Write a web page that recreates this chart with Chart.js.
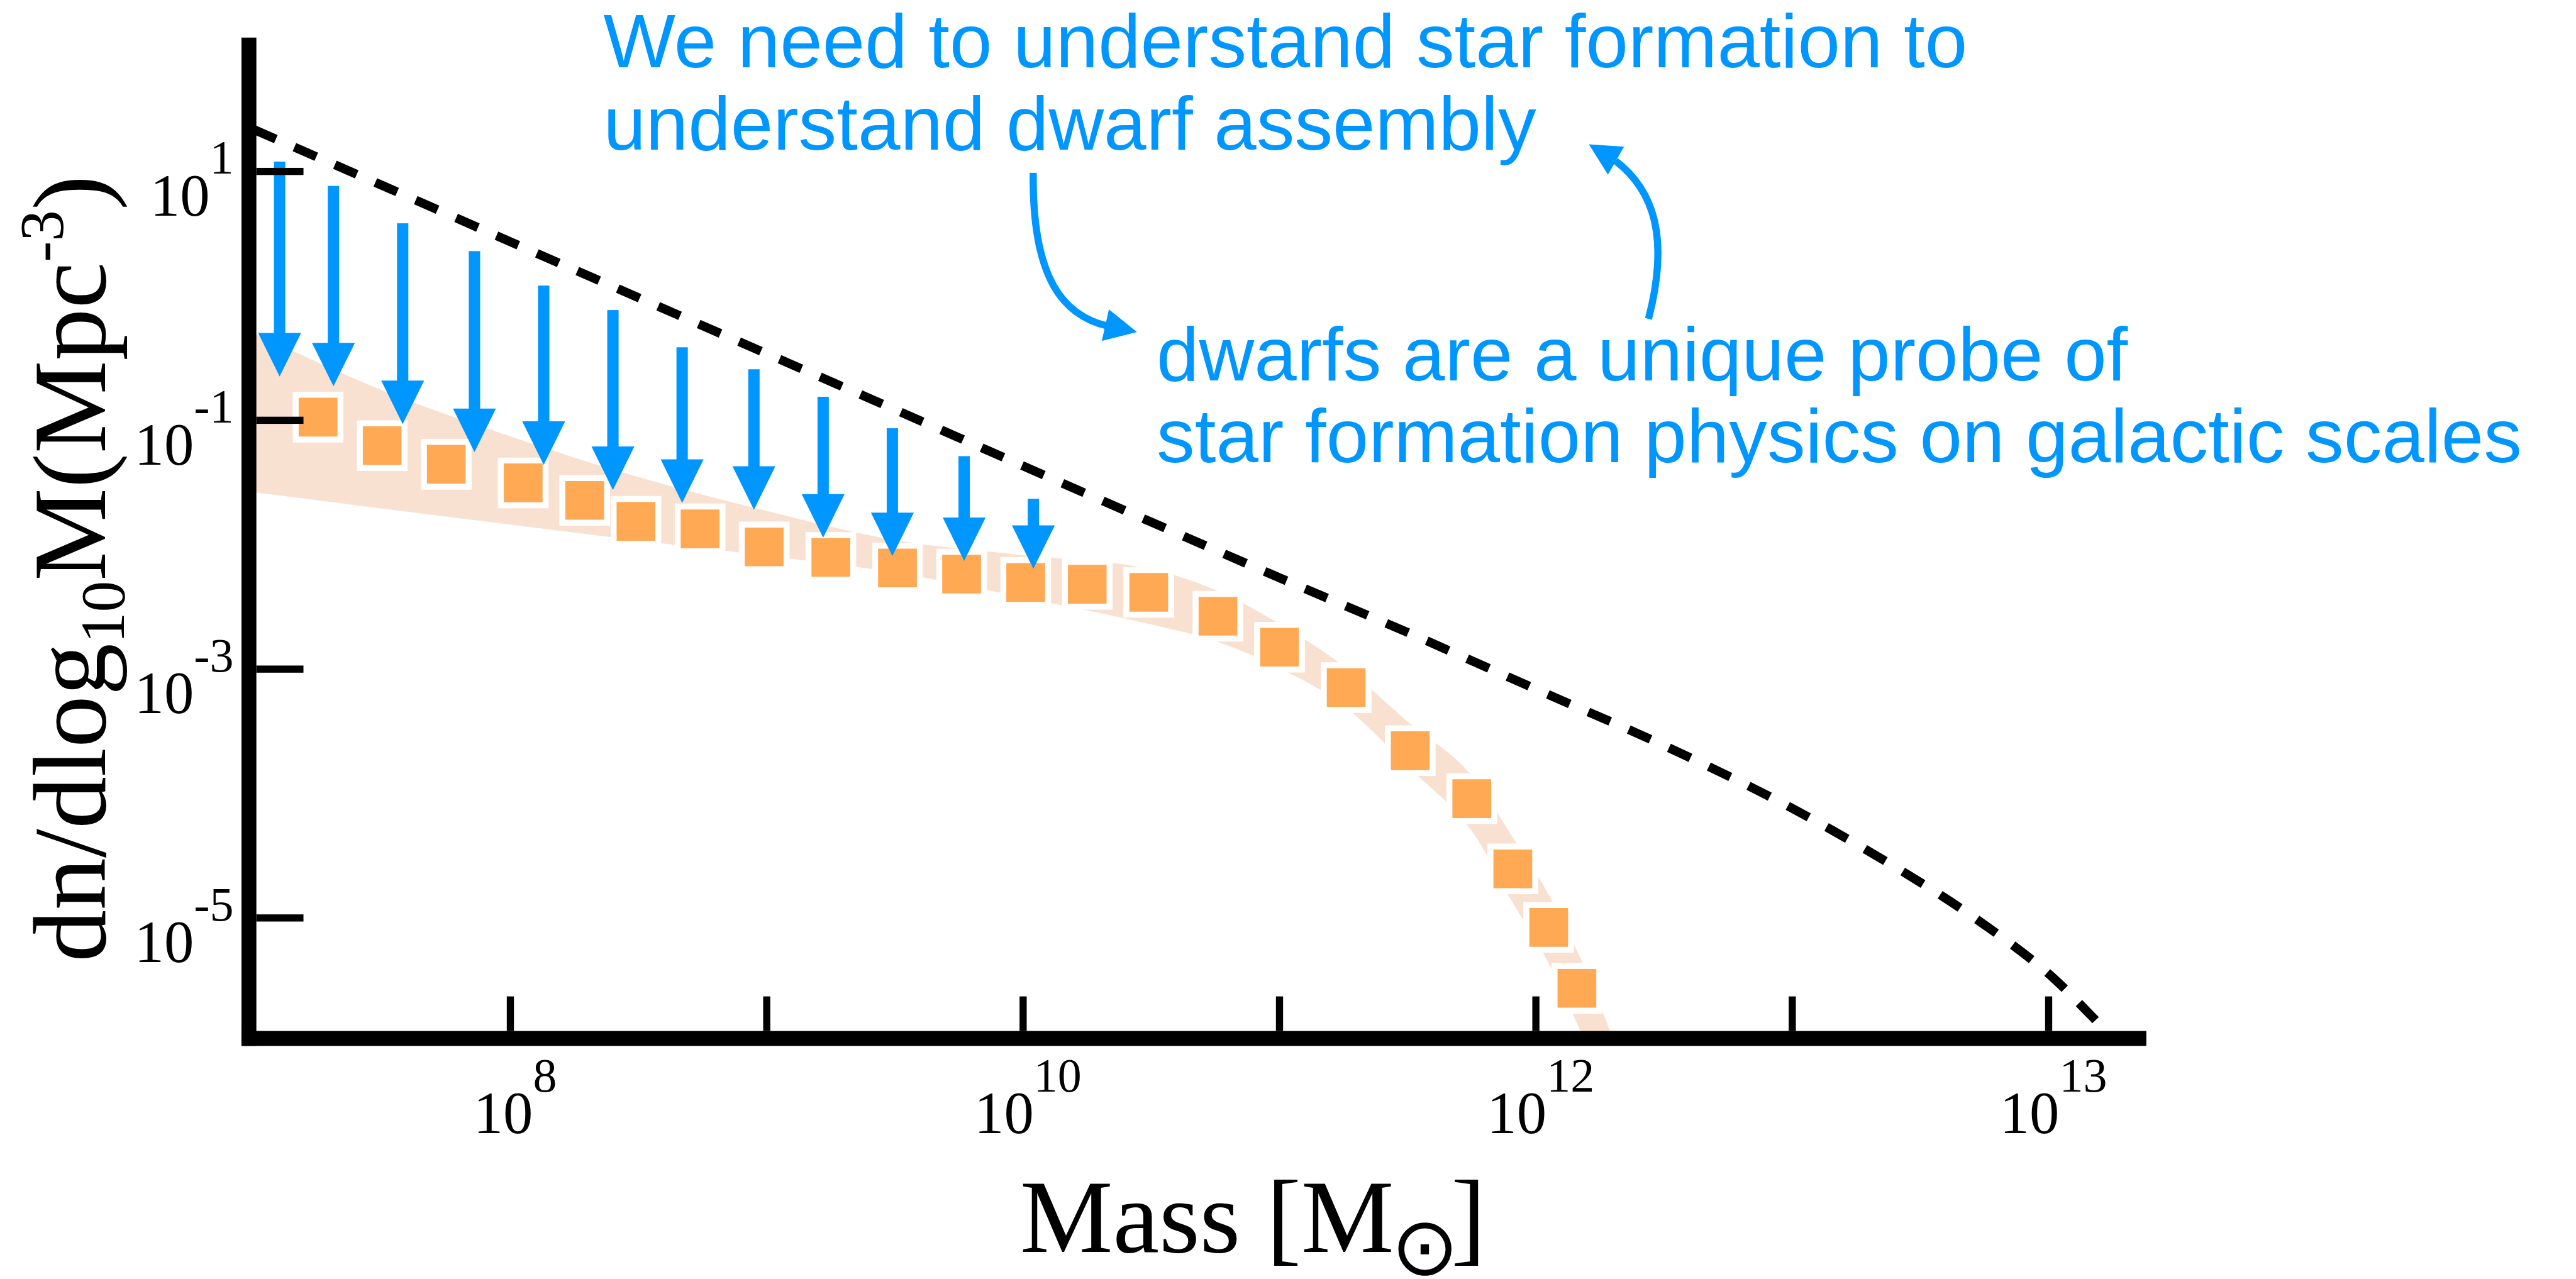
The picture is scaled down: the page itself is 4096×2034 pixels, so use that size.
<!DOCTYPE html>
<html>
<head>
<meta charset="utf-8">
<script src="https://cdn.jsdelivr.net/npm/chart.js@4.4.1/dist/chart.umd.min.js"></script>
<style>
  html, body { margin: 0; padding: 0; background: #fff; }
  #wrap { width: 4096px; height: 2034px; position: relative; }
</style>
</head>
<body>
<div id="wrap"><canvas id="hmfChart"></canvas></div>
<script>
// x is log10(M / Msun), y is dn/dlog10M in Mpc^-3
const tickMass = [8, 9, 10, 11, 12, 13, 14];
const labelMass = [8, 10, 12, 14];
const labelMassExp = ['8', '10', '12', '13'];
const tickDensity = [1e1, 1e-1, 1e-3, 1e-5];
const tickDensityExp = ['1', '-1', '-3', '-5'];

// orange squares (measured mass function)
const sampleMass = [7.25, 7.5, 7.75, 8.05, 8.29, 8.49, 8.74, 8.99, 9.25, 9.51, 9.76, 10.01,
                    10.25, 10.49, 10.76, 11.0, 11.26, 11.51, 11.75, 11.91, 12.05, 12.16];
const sampleDensity = [0.106, 0.0625, 0.0443, 0.0314, 0.0227, 0.0154, 0.0134, 0.0096, 0.0079, 0.0065, 0.0058, 0.00497,
                       0.00481, 0.00414, 0.00266, 0.0015, 7.1e-4, 2.21e-4, 9.1e-5, 2.48e-5, 8.4e-6, 2.72e-6];

// shaded uncertainty band
const bandMass = [7.0, 7.5, 8.0, 8.5, 9.0, 9.5, 10.0, 10.5, 10.75, 11.0, 11.25, 11.5, 11.75, 11.9, 12.05, 12.2, 12.3];
const bandUpper = [0.50, 0.174, 0.0743, 0.0349, 0.0187, 0.0109, 0.00824, 0.00637, 0.00432, 0.00231, 0.00106,
                   3.78e-4, 1.40e-4, 4.78e-5, 1.54e-5, 3.6e-6, 1.08e-6];
const bandLower = [0.0264, 0.0195, 0.0145, 0.0108, 0.00816, 0.00597, 0.00376, 0.00229, 0.00168, 0.00102, 5.1e-4,
                   1.65e-4, 5.0e-5, 1.43e-5, 4.3e-6, 9.4e-7, 3.4e-7];

// dashed halo mass function
const hmfMass = [7.0, 7.5, 8.0, 8.5, 9.0, 9.5, 10.0, 10.5, 11.0, 11.5, 12.0, 12.5, 13.0, 13.5, 13.75, 14.0, 14.16, 14.22];
const hmfDensity = [21.7, 7.72, 2.72, 0.966, 0.343, 0.122, 0.0429, 0.0152, 0.00542, 0.00197, 6.9e-4, 2.43e-4,
                    7.6e-5, 1.93e-5, 8.8e-6, 3.56e-6, 1.69e-6, 1.25e-6];

// blue down arrows (top of shaft, arrow tip)
const limitMass = [7.10, 7.31, 7.58, 7.86, 8.13, 8.40, 8.67, 8.95, 9.22, 9.49, 9.77, 10.04];
const limitTop = [12.0, 7.65, 3.83, 2.29, 1.21, 0.769, 0.386, 0.257, 0.1545, 0.0863, 0.0515, 0.0234];
const limitTip = [0.225, 0.1875, 0.0931, 0.0555, 0.0438, 0.0275, 0.0217, 0.0191, 0.0114, 0.0081, 0.0074, 0.0064];

const noteTop = ['We need to understand star formation to', 'understand dwarf assembly'];
const noteBottom = ['dwarfs are a unique probe of', 'star formation physics on galactic scales'];

const S = 0.948;
const BLUE = '#0096FF';
const SERIF = '"Liberation Serif", "Times New Roman", serif';
const SANS = '"Liberation Sans", Helvetica, Arial, sans-serif';

function pts(xs, ys) {
    return xs.map((v, i) => ({ x: v, y: ys[i] }));
}

function drawPower(ctx, exp, x, base, align) {
    const bigFont = (100 * S / 0.948 * 0.948).toFixed(1) + 'px ' + SERIF;
    const supFont = (76).toFixed(1) + 'px ' + SERIF;
    ctx.font = bigFont;
    const w1 = ctx.measureText('10').width;
    ctx.font = supFont;
    const w2 = ctx.measureText(exp).width;
    const left = align === 'right' ? x - (w1 + w2) : x - (w1 + w2) / 2;
    ctx.font = bigFont;
    ctx.fillText('10', left, base);
    ctx.font = supFont;
    ctx.fillText(exp, left + w1, base - 70 * S);
}

const limitArrows = {
    id: 'limitArrows',
    afterDatasetsDraw(chart) {
        const { ctx, scales: { x, y } } = chart;
        const shaft = 19 * S, headW = 72 * S, headL = 73 * S;
        ctx.save();
        ctx.fillStyle = BLUE;
        limitMass.forEach((m, i) => {
            const cx = x.getPixelForValue(m);
            const top = y.getPixelForValue(limitTop[i]);
            const tip = y.getPixelForValue(limitTip[i]);
            ctx.fillRect(cx - shaft / 2, top, shaft, tip - headL - top + 1);
            ctx.beginPath();
            ctx.moveTo(cx - headW / 2, tip - headL);
            ctx.lineTo(cx + headW / 2, tip - headL);
            ctx.lineTo(cx, tip);
            ctx.closePath();
            ctx.fill();
        });
        ctx.restore();
    }
};

const frame = {
    id: 'frame',
    afterDraw(chart) {
        const { ctx, chartArea: a, scales: { x, y } } = chart;
        const lw = 25 * S;
        const axisX = a.left - 8.5 * S;
        const axisY = a.bottom;
        ctx.save();
        ctx.fillStyle = '#000';
        // axis lines
        ctx.fillRect(axisX - lw / 2, a.top, lw, axisY + lw / 2 - a.top);
        ctx.fillRect(axisX - lw / 2, axisY - lw / 2, a.right - (axisX - lw / 2), lw);
        // inward ticks
        tickDensity.forEach(v => {
            const py = y.getPixelForValue(v);
            ctx.fillRect(axisX + lw / 2, py - 6 * S, 79 * S, 12 * S);
        });
        tickMass.forEach(v => {
            const px = x.getPixelForValue(v);
            ctx.fillRect(px - 6 * S, axisY - lw / 2 - 58 * S, 12 * S, 58 * S);
        });
        // tick labels
        ctx.textAlign = 'left';
        ctx.textBaseline = 'alphabetic';
        tickDensity.forEach((v, i) => {
            const py = y.getPixelForValue(v);
            drawPower(ctx, tickDensityExp[i], a.left - 34 * S, py + 74 * S, 'right');
        });
        labelMass.forEach((v, i) => {
            const px = x.getPixelForValue(v);
            drawPower(ctx, labelMassExp[i], px + 8 * S, axisY + 159 * S, 'center');
        });

        // x axis title: Mass [M(sun)]
        ctx.font = (175 * S).toFixed(1) + 'px ' + SERIF;
        ctx.fillText('Mass [M', 1711 * S, 2100 * S);
        ctx.textAlign = 'right';
        ctx.fillText(']', 2492 * S, 2100 * S);
        ctx.textAlign = 'left';
        ctx.font = '100px "DejaVu Sans"';
        let m = ctx.measureText('\u2299');
        const gh = m.actualBoundingBoxAscent + m.actualBoundingBoxDescent;
        const sunSize = 100 * (91 * S) / gh;
        ctx.font = sunSize.toFixed(1) + 'px "DejaVu Sans"';
        m = ctx.measureText('\u2299');
        const inkW = m.actualBoundingBoxLeft + m.actualBoundingBoxRight;
        ctx.fillText('\u2299', 2390 * S - inkW / 2 + m.actualBoundingBoxLeft, 2051 * S + m.actualBoundingBoxAscent);

        // y axis title, rotated
        const mainFont = (175 * S).toFixed(1) + 'px ' + SERIF;
        const subFont = (105 * S).toFixed(1) + 'px ' + SERIF;
        const parts = [
            ['dn/dlog', mainFont, 0],
            ['10', subFont, 32 * S],
            ['M(Mpc', mainFont, 0],
            ['-3', subFont, -71 * S],
            [')', mainFont, 0]
        ];
        let total = 0;
        parts.forEach(p => { ctx.font = p[1]; p.push(ctx.measureText(p[0]).width); total += p[3]; });
        ctx.translate(176 * S, 954 * S);
        ctx.rotate(-Math.PI / 2);
        let cx = -total / 2;
        parts.forEach(p => {
            ctx.font = p[1];
            ctx.fillText(p[0], cx, p[2]);
            cx += p[3];
        });
        ctx.restore();

        // annotations
        ctx.save();
        ctx.fillStyle = BLUE;
        ctx.strokeStyle = BLUE;
        ctx.font = (128 * S).toFixed(1) + 'px ' + SANS;
        ctx.textAlign = 'left';
        ctx.fillText(noteTop[0], 1012 * S, 113 * S);
        ctx.fillText(noteTop[1], 1012 * S, 251 * S);
        ctx.fillText(noteBottom[0], 1940 * S, 638 * S);
        ctx.fillText(noteBottom[1], 1940 * S, 775 * S);

        ctx.lineWidth = 12 * S;
        ctx.lineCap = 'butt';
        ctx.beginPath();
        ctx.moveTo(1733 * S, 290 * S);
        ctx.bezierCurveTo(1731 * S, 470 * S, 1785 * S, 530 * S, 1858 * S, 547 * S);
        ctx.stroke();
        ctx.beginPath();
        ctx.moveTo(1907 * S, 557 * S);
        ctx.lineTo(1860 * S, 519 * S);
        ctx.lineTo(1848 * S, 572 * S);
        ctx.closePath();
        ctx.fill();

        ctx.beginPath();
        ctx.moveTo(2765 * S, 535 * S);
        ctx.bezierCurveTo(2800 * S, 400 * S, 2775 * S, 320 * S, 2710 * S, 270 * S);
        ctx.stroke();
        ctx.beginPath();
        ctx.moveTo(2665 * S, 242 * S);
        ctx.lineTo(2724 * S, 246 * S);
        ctx.lineTo(2697 * S, 293 * S);
        ctx.closePath();
        ctx.fill();
        ctx.restore();
    }
};

function initializeMassFunctionChart() {
    const ctx = document.getElementById('hmfChart').getContext('2d');

    new Chart(ctx, {
        type: 'line',
        data: {
            datasets: [
                {
                    label: 'band upper',
                    data: pts(bandMass, bandUpper),
                    borderWidth: 0,
                    pointRadius: 0,
                    backgroundColor: '#F9E1D2',
                    fill: '+1',
                    cubicInterpolationMode: 'monotone',
                    order: 4
                },
                {
                    label: 'band lower',
                    data: pts(bandMass, bandLower),
                    borderWidth: 0,
                    pointRadius: 0,
                    fill: false,
                    cubicInterpolationMode: 'monotone',
                    order: 4
                },
                {
                    label: 'halo mass function',
                    data: pts(hmfMass, hmfDensity),
                    borderColor: '#000',
                    borderWidth: 15 * S,
                    borderDash: [40 * S, 34 * S],
                    borderCapStyle: 'butt',
                    pointRadius: 0,
                    fill: false,
                    cubicInterpolationMode: 'monotone',
                    order: 3
                },
                {
                    label: 'measured',
                    data: pts(sampleMass, sampleDensity),
                    showLine: false,
                    pointStyle: 'rect',
                    pointRadius: 75 * S / Math.SQRT2,
                    pointHoverRadius: 75 * S / Math.SQRT2,
                    pointBackgroundColor: '#FFA954',
                    pointBorderColor: '#FFFFFF',
                    pointBorderWidth: 10 * S,
                    order: 1
                }
            ]
        },
        options: {
            responsive: true,
            maintainAspectRatio: false,
            animation: false,
            events: [],
            layout: {
                padding: { left: 426 * S, right: 4096 - 3600 * S, top: 23 * S, bottom: 2034 - 1742 * S }
            },
            plugins: {
                legend: { display: false },
                tooltip: { enabled: false }
            },
            scales: {
                x: {
                    type: 'linear',
                    min: 7,
                    max: 14.381,
                    bounds: 'data',
                    display: false
                },
                y: {
                    type: 'logarithmic',
                    min: 1.076e-6,
                    max: 119.1,
                    bounds: 'data',
                    display: false
                }
            }
        },
        plugins: [limitArrows, frame]
    });
}

document.addEventListener('DOMContentLoaded', function () {
    const loads = [
        document.fonts.load('100px "Liberation Serif"'),
        document.fonts.load('100px "Liberation Sans"'),
        document.fonts.load('100px "DejaVu Sans"')
    ];
    Promise.all(loads).then(initializeMassFunctionChart, initializeMassFunctionChart);
});
</script>
</body>
</html>
